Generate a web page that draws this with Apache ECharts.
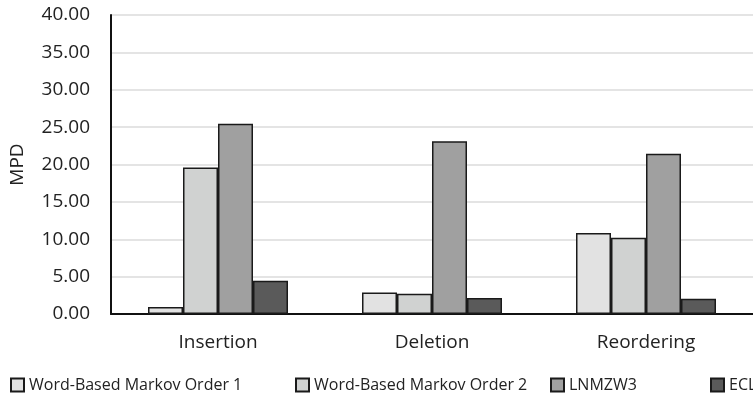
<!DOCTYPE html>
<html>
<head>
<meta charset="utf-8">
<script src="https://cdn.jsdelivr.net/npm/echarts@6/dist/echarts.min.js"></script>
<style>html,body{margin:0;padding:0;background:#fff}#c{width:753px;height:395px}</style>
</head>
<body>
<div id="c"></div>
<script>
var categories = ['Insertion', 'Deletion', 'Reordering'];
var seriesNames = ['Word-Based Markov Order 1', 'Word-Based Markov Order 2', 'LNMZW3', 'ECL'];
var wm1 = [0.94, 2.87, 10.85];
var wm2 = [19.6, 2.7, 10.2];
var lnmzw3 = [25.45, 23.1, 21.44];
var ecl = [4.45, 2.15, 2.05];
var yTicks = [0, 5, 10, 15, 20, 25, 30, 35, 40];

var colors = ['#e2e2e2', '#d0d2d1', '#a0a0a0', '#5a5a5a'];
var values = [wm1, wm2, lnmzw3, ecl];
var legendLefts = [5, 290, 545, 705];
var font = 'Open Sans';

var chart = echarts.init(document.getElementById('c'));
chart.setOption({
  animation: false,
  textStyle: { fontFamily: font },
  grid: { left: 110, right: -5, top: 15, bottom: 81 },
  legend: seriesNames.map(function (n, i) {
    return {
      data: [n], left: legendLefts[i], top: 372, icon: 'rect',
      itemWidth: 13, itemHeight: 13, itemGap: 8,
      textStyle: { fontFamily: font, fontSize: 16, color: '#222' }
    };
  }),
  xAxis: {
    type: 'category', data: categories,
    axisLine: { lineStyle: { color: '#111', width: 2 } },
    axisTick: { show: false },
    axisLabel: { fontFamily: font, fontSize: 19, color: '#222', margin: 19 }
  },
  yAxis: {
    type: 'value', min: yTicks[0], max: yTicks[yTicks.length - 1], interval: 5,
    name: 'MPD', nameLocation: 'middle', nameGap: 84, nameRotate: 90,
    nameTextStyle: { fontFamily: font, fontSize: 19, color: '#222' },
    axisLine: { show: true, lineStyle: { color: '#111', width: 2 } },
    axisTick: { show: false },
    axisLabel: { fontFamily: font, fontSize: 19, color: '#222', margin: 21,
      formatter: function (v) { return v.toFixed(2); } },
    splitLine: { lineStyle: { color: '#e4e4e4', width: 2 } }
  },
  series: seriesNames.map(function (n, i) {
    return {
      name: n, type: 'bar', data: values[i],
      barWidth: 35, barGap: '0%',
      itemStyle: { color: colors[i], borderColor: '#1a1a1a', borderWidth: 1.5 }
    };
  })
});
</script>
</body>
</html>
